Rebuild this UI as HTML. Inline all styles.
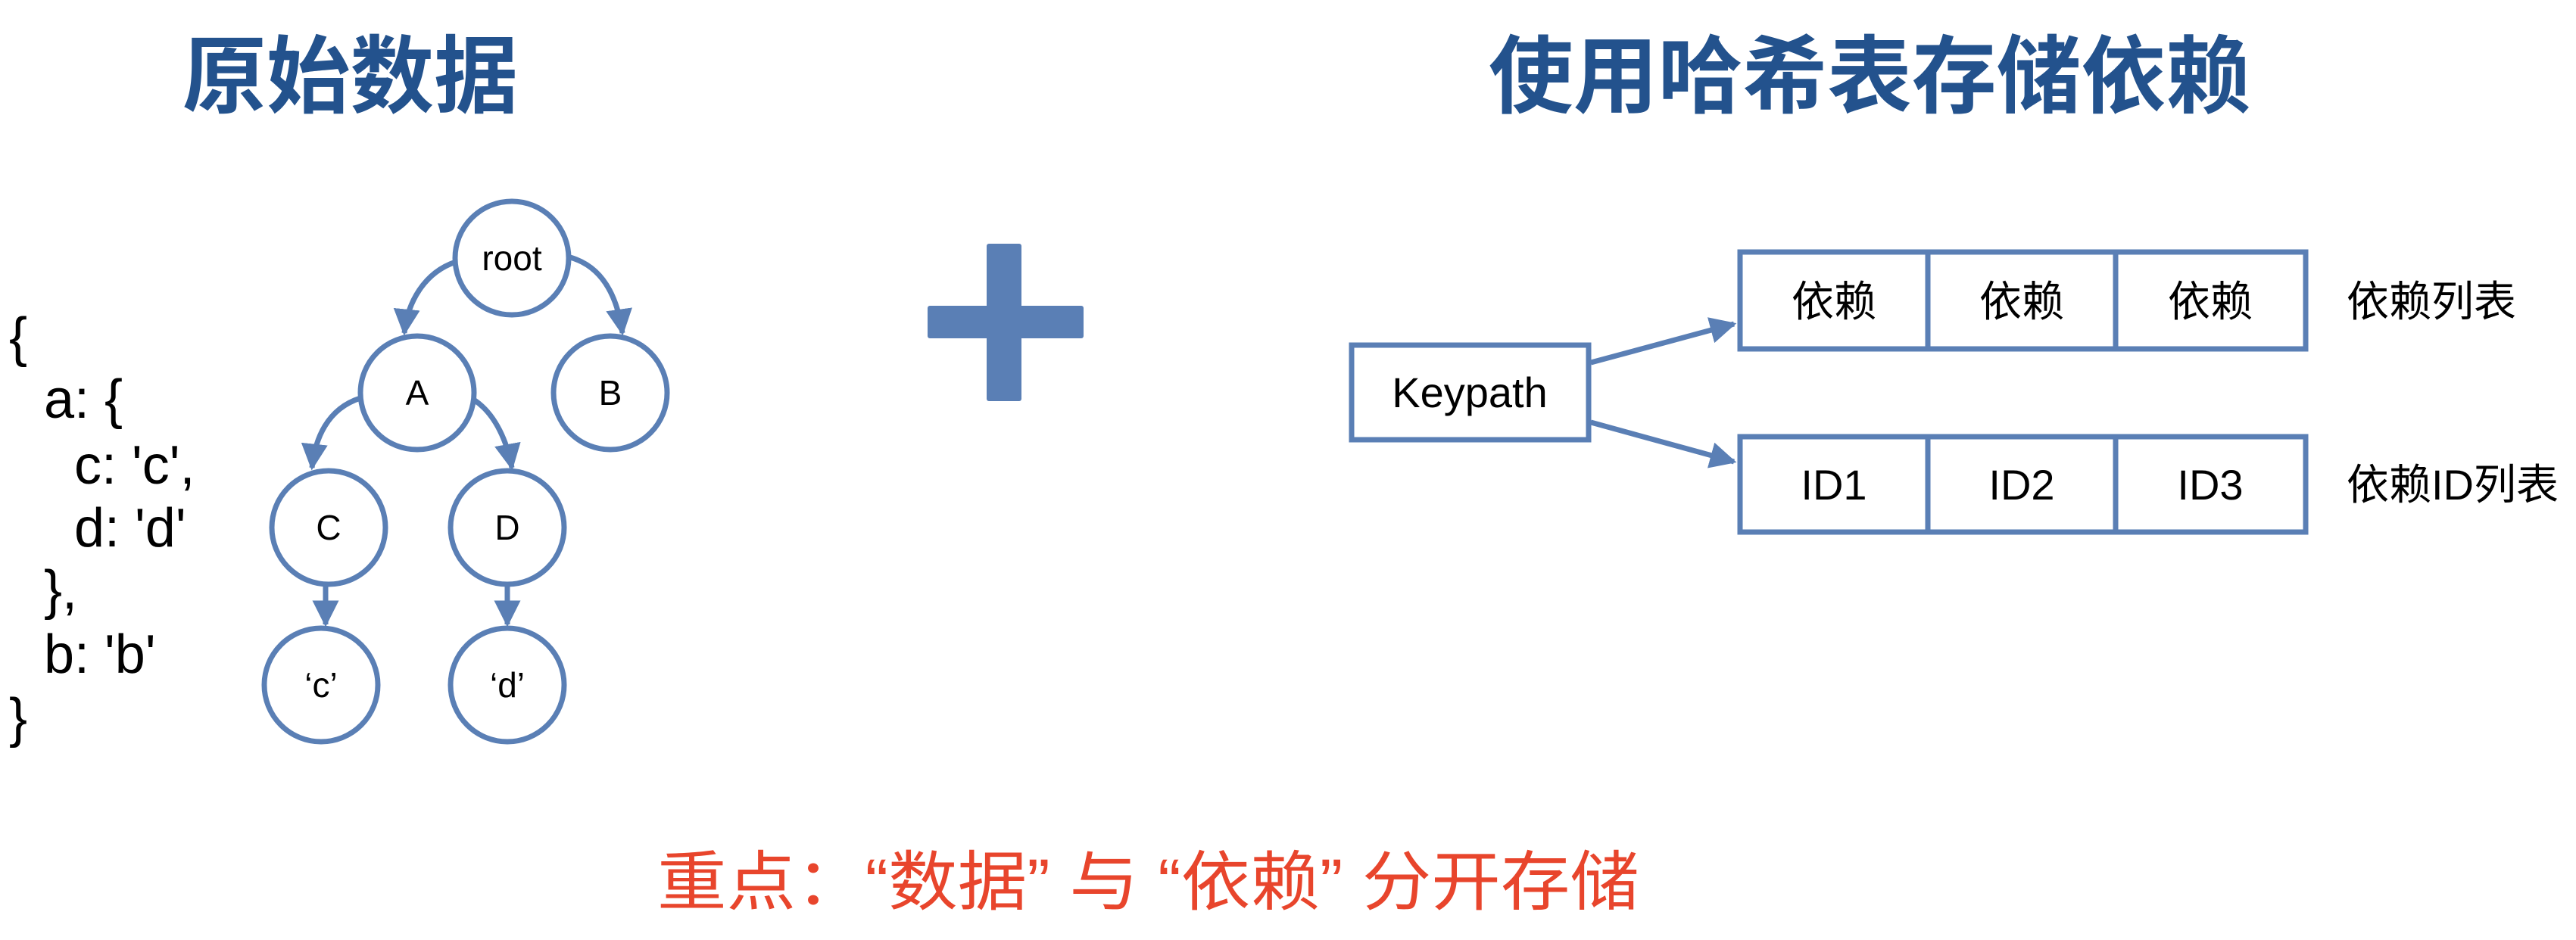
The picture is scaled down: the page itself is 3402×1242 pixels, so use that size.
<!DOCTYPE html>
<html><head><meta charset="utf-8"><style>
html,body{margin:0;padding:0;background:#fff;}
svg{display:block;}
</style></head><body>
<svg width="3402" height="1242" viewBox="0 0 3402 1242" xmlns="http://www.w3.org/2000/svg">
<defs>
<marker id="ah" viewBox="0 0 10 10" refX="9" refY="5" markerWidth="5" markerHeight="5" markerUnits="strokeWidth" orient="auto">
<path d="M0,0 L10,5 L0,10 z" fill="#5a7fb5"/></marker>
</defs>
<g font-family="'Liberation Sans','Noto Sans CJK SC',sans-serif">
<text x="241" y="140" font-size="112" font-weight="bold" fill="#23528d" textLength="443" lengthAdjust="spacingAndGlyphs">原始数据</text>
<text x="1966" y="140" font-size="112" font-weight="bold" fill="#23528d" textLength="1006" lengthAdjust="spacingAndGlyphs">使用哈希表存储依赖</text>

<g font-size="72" fill="#000">
<text x="12" y="470">{</text>
<text x="58" y="552">a: {</text>
<text x="98" y="639">c: 'c',</text>
<text x="98" y="722">d: 'd'</text>
<text x="58" y="804">},</text>
<text x="58" y="889">b: 'b'</text>
<text x="12" y="973">}</text>
</g>

<g fill="none" stroke="#5a7fb5" stroke-width="7">
<circle cx="676" cy="341" r="75" fill="#fff"/>
<circle cx="551" cy="519" r="75" fill="#fff"/>
<circle cx="806" cy="519" r="75" fill="#fff"/>
<circle cx="434" cy="697" r="75" fill="#fff"/>
<circle cx="670" cy="697" r="75" fill="#fff"/>
<circle cx="424" cy="905" r="75" fill="#fff"/>
<circle cx="670" cy="905" r="75" fill="#fff"/>
<path d="M602,346 C560,360 538,400 534,440" marker-end="url(#ah)"/>
<path d="M753,340 C795,352 815,390 822,440" marker-end="url(#ah)"/>
<path d="M476,526 C432,540 416,580 412,618" marker-end="url(#ah)"/>
<path d="M627,529 C655,548 670,585 676,618" marker-end="url(#ah)"/>
<path d="M430,774 L430,825" marker-end="url(#ah)"/>
<path d="M670,774 L670,825" marker-end="url(#ah)"/>
</g>
<g font-size="46" fill="#000" text-anchor="middle">
<text x="676" y="357">root</text>
<text x="551" y="535">A</text>
<text x="806" y="535">B</text>
<text x="434" y="713">C</text>
<text x="670" y="713">D</text>
<text x="424" y="921">‘c’</text>
<text x="670" y="921">‘d’</text>
</g>

<rect x="1303" y="322" width="46" height="208" rx="3" fill="#5a7fb5"/>
<rect x="1225" y="404" width="206" height="43" rx="3" fill="#5a7fb5"/>

<g fill="#fff" stroke="#5a7fb5" stroke-width="7">
<rect x="1785" y="456" width="313" height="125"/>
<rect x="2298" y="333" width="747" height="128"/>
<rect x="2298" y="577" width="747" height="126"/>
<path d="M2546,333 V461 M2794,333 V461 M2546,577 V703 M2794,577 V703"/>
<path d="M2101,479 L2290,428" marker-end="url(#ah)"/>
<path d="M2101,558 L2290,610" marker-end="url(#ah)"/>
</g>
<g font-size="56" fill="#000" text-anchor="middle">
<text x="1941" y="538">Keypath</text>
<text x="2422" y="418">依赖</text>
<text x="2670" y="418">依赖</text>
<text x="2919" y="418">依赖</text>
<text x="2422" y="660">ID1</text>
<text x="2670" y="660">ID2</text>
<text x="2919" y="660">ID3</text>
</g>
<g font-size="56" fill="#000">
<text x="3099" y="418">依赖列表</text>
<text x="3099" y="660">依赖ID列表</text>
</g>

<text x="868" y="1195" font-size="86" fill="#e8452c" textLength="1297" lengthAdjust="spacingAndGlyphs">重点：“数据” 与 “依赖” 分开存储</text>
</g>
</svg>
</body></html>
